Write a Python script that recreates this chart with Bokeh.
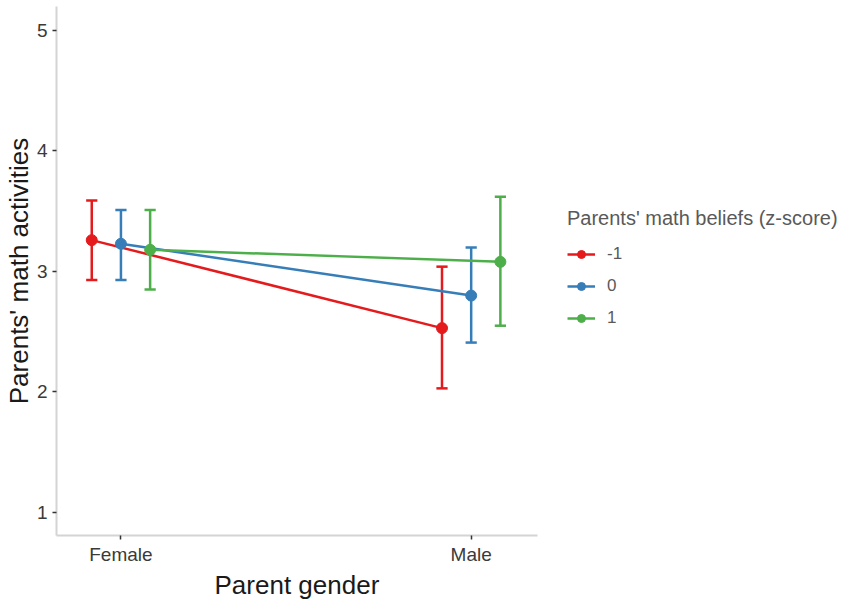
from bokeh.plotting import figure
from bokeh.models import Legend, LegendItem, FixedTicker, Range1d, Title
from bokeh.embed import file_html
from bokeh.resources import INLINE

# ---- data ----
genders = ["Female", "Male"]
belief_levels = ["-1", "0", "1"]
mean_m1 = [3.26, 2.53]
low_m1 = [2.93, 2.03]
up_m1 = [3.59, 3.04]
mean_0 = [3.23, 2.80]
low_0 = [2.93, 2.41]
up_0 = [3.51, 3.20]
mean_p1 = [3.18, 3.08]
low_p1 = [2.85, 2.55]
up_p1 = [3.51, 3.62]
y_ticks = [1, 2, 3, 4, 5]

colors = ["#E41A1C", "#377EB8", "#4DAF4A"]
dodge = [-1 / 12, 0.0, 1 / 12]
cap_half = 0.016
FONT = "Liberation Sans"
X_LO, X_HI = 0.816, 2.188          # visible panel extent (axis bounds)

p = figure(width=850, height=602, output_backend="svg", toolbar_location=None,
           x_range=Range1d(X_LO, 3.083), y_range=Range1d(0.809, 5.199),
           min_border_left=56, min_border_right=0, min_border_top=6,
           min_border_bottom=67)
p.outline_line_color = None
p.xgrid.visible = False
p.ygrid.visible = False
p.background_fill_color = "white"

series = [(mean_m1, low_m1, up_m1), (mean_0, low_0, up_0), (mean_p1, low_p1, up_p1)]
items = []
for (m, lo, up), col, dx, lab in zip(series, colors, dodge, belief_levels):
    xs = [i + 1 + dx for i in range(len(genders))]
    p.segment(x0=xs, y0=lo, x1=xs, y1=up, line_color=col, line_width=2.5)
    p.segment(x0=[x - cap_half for x in xs], y0=lo, x1=[x + cap_half for x in xs], y1=lo,
              line_color=col, line_width=2.5)
    p.segment(x0=[x - cap_half for x in xs], y0=up, x1=[x + cap_half for x in xs], y1=up,
              line_color=col, line_width=2.5)
    ln = p.line(xs, m, line_color=col, line_width=2.5)
    sc = p.scatter(xs, m, size=11, fill_color=col, line_color=col)
    items.append(LegendItem(label=lab, renderers=[ln, sc]))

legend = Legend(items=items, location=(511, 207))
legend.title = "Parents' math beliefs (z-score)"
legend.title_text_font = FONT
legend.title_text_font_size = "20px"
legend.title_text_font_style = "normal"
legend.title_text_color = "#595959"
legend.title_standoff = 14
legend.label_text_font = FONT
legend.label_text_font_size = "17px"
legend.label_text_color = "#595959"
legend.background_fill_alpha = 0
legend.border_line_alpha = 0
legend.padding = 0
legend.margin = 0
legend.spacing = 12
legend.glyph_height = 20
legend.glyph_width = 28
legend.label_height = 20
legend.label_standoff = 12
p.add_layout(legend)

# axes
p.xaxis.ticker = FixedTicker(ticks=[i + 1 for i in range(len(genders))])
p.xaxis.major_label_overrides = {i + 1: g for i, g in enumerate(genders)}
p.xaxis.bounds = (X_LO, X_HI)
p.yaxis.ticker = FixedTicker(ticks=y_ticks)
for ax in (p.xaxis, p.yaxis):
    ax.axis_line_color = "#d4d4d4"
    ax.axis_line_width = 2
    ax.major_tick_line_color = "#333333"
    ax.major_tick_line_width = 1.5
    ax.major_tick_out = 4
    ax.major_tick_in = 0
    ax.minor_tick_line_color = None
    ax.major_label_text_font = FONT
    ax.major_label_text_font_size = "19px"
    ax.major_label_text_color = "#3a3a3a"
    ax.axis_label_text_font = FONT
    ax.axis_label_text_font_size = "26px"
    ax.axis_label_text_font_style = "normal"
    ax.axis_label_text_color = "#1a1a1a"
    ax.axis_label_standoff = 0
p.xaxis.major_label_standoff = 4
p.yaxis.major_label_standoff = 5
p.yaxis.axis_label = "Parents' math activities"

# x-axis title, centred under the visible panel (frame is widened for the legend)
xtitle = Title(text="Parent gender", align="left", offset=158, standoff=0,
               text_font=FONT, text_font_size="26px", text_font_style="normal",
               text_color="#1a1a1a")
p.add_layout(xtitle, "below")

open("out.html", "w").write(file_html(p, INLINE))
